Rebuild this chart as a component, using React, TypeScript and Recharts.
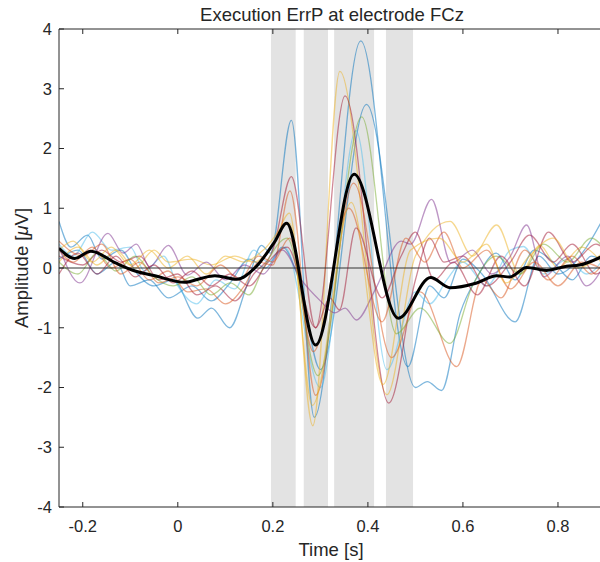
import { LineChart, Line, XAxis, YAxis, ReferenceArea, ReferenceLine } from "recharts";

// Execution ErrP at FCz: single-subject averages (thin, pale) plus the grand average (thick black).
// Each series is a list of [time (s), amplitude (µV)] turning points.
type Pt = [number, number];

const timeTicks = [-0.2, 0, 0.2, 0.4, 0.6, 0.8];
const ampTicks = [-4, -3, -2, -1, 0, 1, 2, 3, 4];

// grey windows (s) marking the analysed components
const windows: Pt[] = [
  [0.196, 0.248],
  [0.265, 0.316],
  [0.329, 0.413],
  [0.438, 0.495],
];

const grandAverage: Pt[] = [
  [-0.25, 0.33], [-0.217, 0.16], [-0.183, 0.28], [-0.13, 0.08], [-0.09, -0.05], [-0.048, -0.13],
  [0.015, -0.24], [0.05, -0.17], [0.078, -0.13], [0.124, -0.19], [0.162, 0.0], [0.204, 0.44],
  [0.229, 0.75], [0.29, -1.29], [0.371, 1.57], [0.464, -0.84], [0.532, -0.16], [0.573, -0.33],
  [0.629, -0.25], [0.671, -0.13], [0.699, -0.15], [0.734, 0.01], [0.776, -0.04], [0.818, 0.03],
  [0.845, 0.05], [0.9, 0.22],
];

const subj01: Pt[] = [
  [-0.25, 0.78], [-0.225, 0.35], [-0.19, 0.55], [-0.16, 0.15], [-0.12, 0.3], [-0.085, -0.1],
  [-0.05, -0.3], [-0.01, -0.2], [0.042, -0.84], [0.071, -0.67], [0.109, -1.0], [0.145, -0.3],
  [0.176, 0.38], [0.195, 0.25], [0.239, 2.47], [0.287, -2.5], [0.385, 3.8], [0.484, -1.65],
  [0.53, -0.3], [0.56, -0.5], [0.6, 0.15], [0.64, -0.1], [0.71, -0.9], [0.76, 0.2], [0.8, -0.1],
  [0.86, 0.35], [0.9, 0.9],
];
const subj02: Pt[] = [
  [-0.25, 0.15], [-0.21, 0.3], [-0.17, -0.1], [-0.13, 0.1], [-0.1, -0.3], [-0.06, -0.2],
  [-0.02, -0.5], [0.03, -0.3], [0.07, -0.55], [0.11, -0.25], [0.15, 0.15], [0.185, 0.0],
  [0.22, 0.35], [0.255, -0.2], [0.3, -1.7], [0.397, 2.74], [0.5, -2.0], [0.525, -1.9],
  [0.555, -2.05], [0.594, -0.76], [0.63, -0.15], [0.67, 0.25], [0.71, -0.2], [0.75, 0.3],
  [0.79, 0.1], [0.83, -0.2], [0.87, 0.2], [0.9, 0.1],
];
const subj03: Pt[] = [
  [-0.25, 0.4], [-0.22, 0.2], [-0.18, 0.6], [-0.14, 0.3], [-0.1, 0.35], [-0.07, -0.05],
  [-0.03, 0.2], [0.0, -0.3], [0.04, -0.6], [0.08, -0.2], [0.12, -0.35], [0.16, 0.3], [0.19, 0.1],
  [0.225, 0.35], [0.3, -2.0], [0.375, 2.3], [0.44, -1.7], [0.5, -0.4], [0.53, -0.6], [0.566, -0.2],
  [0.6, 0.1], [0.65, -0.3], [0.7, 0.3], [0.727, 0.36], [0.77, -0.1], [0.82, 0.15], [0.86, -0.1],
  [0.9, 0.2],
];
const subj04: Pt[] = [
  [-0.25, 0.1], [-0.21, 0.35], [-0.17, 0.05], [-0.13, 0.3], [-0.09, 0.0], [-0.05, 0.3],
  [-0.02, 0.1], [0.03, 0.15], [0.07, 0.05], [0.12, 0.2], [0.16, 0.1], [0.2, 0.4], [0.235, 0.92],
  [0.284, -2.64], [0.341, 3.29], [0.44, -2.12], [0.5, 0.2], [0.573, 0.78], [0.62, 0.2],
  [0.671, 0.72], [0.72, -0.1], [0.762, 0.38], [0.8, 0.0], [0.85, 0.35], [0.9, 0.0],
];
const subj05: Pt[] = [
  [-0.25, 0.2], [-0.2, 0.05], [-0.16, 0.3], [-0.12, 0.1], [-0.08, 0.2], [-0.04, -0.2], [0.0, -0.1],
  [0.04, -0.45], [0.08, -0.3], [0.12, -0.55], [0.16, -0.1], [0.2, 0.3], [0.239, 1.53],
  [0.29, -1.0], [0.352, 2.88], [0.444, -2.26], [0.5, -0.2], [0.53, 0.5], [0.56, 0.1], [0.6, 0.2],
  [0.65, -0.3], [0.7, 0.1], [0.74, 0.55], [0.79, 0.1], [0.83, 0.4], [0.88, -0.1], [0.9, 0.0],
];
const subj06: Pt[] = [
  [-0.25, 0.3], [-0.22, 0.1], [-0.18, 0.35], [-0.14, 0.0], [-0.1, 0.15], [-0.06, -0.2],
  [-0.02, -0.05], [0.02, -0.4], [0.06, -0.35], [0.1, -0.6], [0.14, -0.3], [0.17, 0.1], [0.2, 0.05],
  [0.236, 1.29], [0.29, -2.13], [0.37, 1.42], [0.45, -1.5], [0.51, -0.4], [0.587, -1.65],
  [0.64, -0.2], [0.68, -0.5], [0.73, 0.3], [0.78, -0.2], [0.83, 0.2], [0.87, -0.1], [0.9, 0.15],
];
const subj07: Pt[] = [
  [-0.25, 0.1], [-0.21, -0.1], [-0.17, 0.25], [-0.13, -0.05], [-0.09, 0.2], [-0.05, -0.15],
  [-0.01, -0.3], [0.03, -0.15], [0.07, -0.45], [0.11, -0.25], [0.15, -0.45], [0.18, 0.0],
  [0.23, 0.5], [0.295, -1.8], [0.387, 2.53], [0.46, -1.1], [0.51, -0.67], [0.573, -1.26],
  [0.62, -0.3], [0.67, 0.2], [0.72, -0.1], [0.77, 0.4], [0.82, 0.1], [0.87, 0.5], [0.9, 0.3],
];
const subj08: Pt[] = [
  [-0.25, 0.35], [-0.206, -0.25], [-0.147, 0.58], [-0.115, 0.25], [-0.087, 0.4], [-0.059, 0.02],
  [-0.02, 0.38], [0.02, -0.12], [0.06, 0.1], [0.1, -0.2], [0.14, 0.05], [0.18, -0.1], [0.22, 0.3],
  [0.26, -0.2], [0.3, -0.55], [0.33, -0.75], [0.352, -0.67], [0.376, -0.87], [0.415, -0.37],
  [0.47, 0.45], [0.49, 0.4], [0.534, 1.15], [0.575, 0.08], [0.62, 0.3], [0.66, -0.1], [0.7, 0.2],
  [0.734, 0.72], [0.77, -0.15], [0.82, 0.2], [0.86, -0.3], [0.9, 0.1],
];
const subj09: Pt[] = [
  [-0.25, -0.1], [-0.21, 0.25], [-0.17, -0.1], [-0.13, 0.2], [-0.09, -0.15], [-0.05, 0.05],
  [-0.01, -0.25], [0.03, -0.05], [0.07, -0.3], [0.11, -0.1], [0.15, -0.3], [0.19, 0.1],
  [0.23, 0.35], [0.29, -1.0], [0.32, -0.5], [0.34, -0.7], [0.375, 0.67], [0.43, -0.5],
  [0.47, 0.2], [0.5, 0.6], [0.54, -0.2], [0.58, 0.1], [0.63, -0.45], [0.68, 0.2], [0.73, -0.3],
  [0.78, 0.6], [0.83, 0.1], [0.88, 0.4], [0.9, 0.3],
];
const subj10: Pt[] = [
  [-0.25, 0.45], [-0.2, 0.2], [-0.16, 0.4], [-0.12, -0.1], [-0.08, 0.1], [-0.04, -0.25],
  [0.0, -0.15], [0.04, -0.3], [0.09, 0.05], [0.13, -0.2], [0.17, 0.2], [0.2, 0.1], [0.235, 0.5],
  [0.285, -1.4], [0.36, 1.0], [0.43, -0.9], [0.48, 0.5], [0.52, 0.1], [0.56, 0.6], [0.6, 0.0],
  [0.65, 0.3], [0.7, -0.35], [0.75, 0.1], [0.8, -0.3], [0.85, 0.1], [0.9, -0.05],
];
const subj11: Pt[] = [
  [-0.25, 0.3], [-0.22, 0.45], [-0.18, 0.1], [-0.14, 0.35], [-0.1, 0.05], [-0.06, 0.3],
  [-0.02, 0.0], [0.02, 0.2], [0.06, -0.1], [0.1, 0.2], [0.14, 0.1], [0.18, 0.3], [0.235, 0.75],
  [0.283, -2.3], [0.365, 1.1], [0.432, -1.95], [0.49, 0.3], [0.55, 0.5], [0.6, 0.1], [0.65, 0.4],
  [0.69, -0.25], [0.74, 0.2], [0.79, 0.5], [0.84, 0.0], [0.9, 0.3],
];

// MATLAB default colour order
const subjects: { pts: Pt[]; color: string }[] = [
  { pts: subj01, color: "#0072BD" },
  { pts: subj02, color: "#0072BD" },
  { pts: subj03, color: "#4DBEEE" },
  { pts: subj04, color: "#EDB120" },
  { pts: subj05, color: "#A2142F" },
  { pts: subj06, color: "#D95319" },
  { pts: subj07, color: "#77AC30" },
  { pts: subj08, color: "#7E2F8E" },
  { pts: subj09, color: "#A2142F" },
  { pts: subj10, color: "#D95319" },
  { pts: subj11, color: "#EDB120" },
];

const toRows = (pts: Pt[]) => pts.map(([t, v]) => ({ t, v }));

const FONT = "'Liberation Sans', Arial, Helvetica, sans-serif";
const INK = "#262626";
const TICK_LEN = 5;
const X_GAP = 13; // axis line -> top of x tick labels
const Y_GAP = 7; // axis line -> right end of y tick labels

// MATLAB style: tick marks point into the plot box
const BottomTick = ({ x, y, payload }: any) => {
  const axisY = y - X_GAP;
  return (
    <g>
      <line x1={x} x2={x} y1={axisY} y2={axisY - TICK_LEN} stroke={INK} />
      <text x={x} y={y} dy="0.71em" textAnchor="middle" fill={INK} fontSize={16.5} fontFamily={FONT}>
        {payload.value}
      </text>
    </g>
  );
};
const TopTick = ({ x, y }: any) => (
  <line x1={x} x2={x} y1={y} y2={y + TICK_LEN} stroke={INK} />
);
const LeftTick = ({ x, y, payload }: any) => {
  const axisX = x + Y_GAP;
  return (
    <g>
      <line x1={axisX} x2={axisX + TICK_LEN} y1={y} y2={y} stroke={INK} />
      <text x={x} y={y} dy="0.36em" textAnchor="end" fill={INK} fontSize={16.5} fontFamily={FONT}>
        {payload.value}
      </text>
    </g>
  );
};

export default function App() {
  return (
    <div style={{ position: "absolute", left: 0, top: 0, width: 600, height: 562, overflow: "hidden", background: "#fff" }}>
      <LineChart width={612} height={562} margin={{ top: 28, right: 6.5, bottom: 0, left: 0 }}>
        <XAxis
          dataKey="t"
          type="number"
          domain={[-0.25, 0.9]}
          allowDataOverflow
          ticks={timeTicks}
          interval={0}
          height={55}
          tickSize={0}
          tickLine={false}
          tickMargin={X_GAP}
          stroke={INK}
          tick={<BottomTick />}
        />
        {/* box on: plain top edge with inward ticks */}
        <XAxis
          xAxisId="top"
          orientation="top"
          dataKey="t"
          type="number"
          domain={[-0.25, 0.9]}
          allowDataOverflow
          ticks={timeTicks}
          interval={0}
          height={1}
          tickSize={0}
          tickLine={false}
          tickMargin={0}
          stroke={INK}
          tick={<TopTick />}
        />
        <YAxis
          type="number"
          domain={[-4, 4]}
          allowDataOverflow
          ticks={ampTicks}
          interval={0}
          width={59}
          tickSize={0}
          tickLine={false}
          tickMargin={Y_GAP}
          stroke={INK}
          tick={<LeftTick />}
        />
        {windows.map(([a, b], i) => (
          <ReferenceArea key={i} x1={a} x2={b} fill="#e3e3e3" fillOpacity={1} stroke="none" />
        ))}
        {subjects.map((s, i) => (
          <Line
            key={i}
            data={toRows(s.pts)}
            dataKey="v"
            type="monotone"
            stroke={s.color}
            strokeOpacity={0.5}
            strokeWidth={1.3}
            dot={false}
            activeDot={false}
            isAnimationActive={false}
          />
        ))}
        <ReferenceLine y={0} stroke="#333" strokeWidth={1} />
        <Line
          data={toRows(grandAverage)}
          dataKey="v"
          type="monotone"
          stroke="#000"
          strokeWidth={3}
          dot={false}
          activeDot={false}
          isAnimationActive={false}
        />
      </LineChart>

      <div style={{ position: "absolute", left: 332, top: 5.6, transform: "translateX(-50%)", whiteSpace: "nowrap", fontFamily: FONT, fontSize: 18.5, lineHeight: 1, color: INK }}>
        Execution ErrP at electrode FCz
      </div>
      <div style={{ position: "absolute", left: 331, top: 541, transform: "translateX(-50%)", whiteSpace: "nowrap", fontFamily: FONT, fontSize: 18.5, lineHeight: 1, color: INK }}>
        Time [s]
      </div>
      <div style={{ position: "absolute", left: 22, top: 268, transform: "translate(-50%, -50%) rotate(-90deg)", whiteSpace: "nowrap", fontFamily: FONT, fontSize: 18.5, lineHeight: 1, color: INK }}>
        Amplitude [<i>μ</i>V]
      </div>
    </div>
  );
}
